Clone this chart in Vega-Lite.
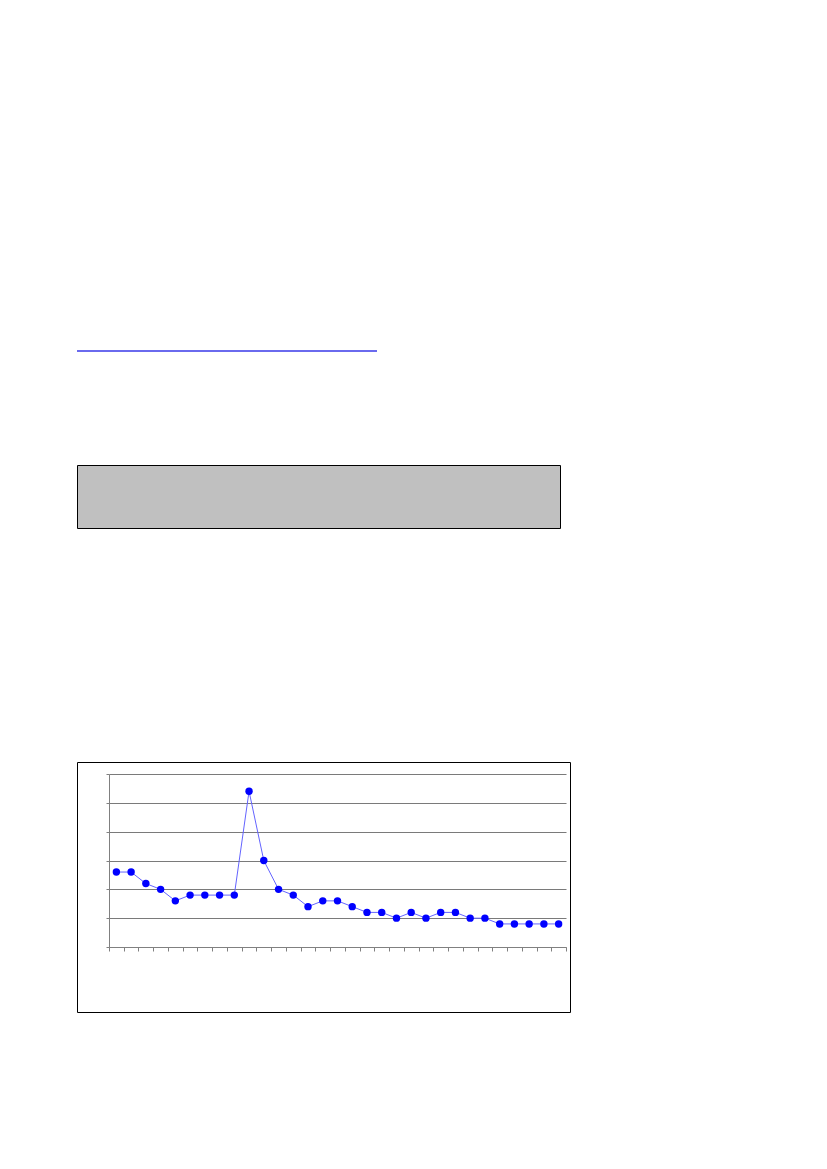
{
  "$schema": "https://vega.github.io/schema/vega-lite/v6.json",
  "background": "white",
  "padding": {"top": 350, "left": 76, "right": 5, "bottom": 5},
  "spacing": 0,
  "config": {"view": {"stroke": null}},
  "vconcat": [
    {"width": 300, "height": 2, "view": {"fill": "#6a6aee", "stroke": null}, "data": {"values": []}, "mark": "point"},
    {"width": 10, "height": 112, "data": {"values": []}, "mark": "point"},
    {"width": 483, "height": 63, "view": {"fill": "#c0c0c0", "stroke": "black", "strokeWidth": 1}, "data": {"values": []}, "mark": "point"},
    {"width": 10, "height": 232, "data": {"values": []}, "mark": "point"},
    {
      "width": 493,
      "height": 250,
      "view": {"stroke": "black", "strokeWidth": 1, "fill": "white"},
      "data": {"values": [
        {"i": 1, "v": 2.6}, {"i": 2, "v": 2.6}, {"i": 3, "v": 2.2}, {"i": 4, "v": 2.0},
        {"i": 5, "v": 1.6}, {"i": 6, "v": 1.8}, {"i": 7, "v": 1.8}, {"i": 8, "v": 1.8},
        {"i": 9, "v": 1.8}, {"i": 10, "v": 5.4}, {"i": 11, "v": 3.0}, {"i": 12, "v": 2.0},
        {"i": 13, "v": 1.8}, {"i": 14, "v": 1.4}, {"i": 15, "v": 1.6}, {"i": 16, "v": 1.6},
        {"i": 17, "v": 1.4}, {"i": 18, "v": 1.2}, {"i": 19, "v": 1.2}, {"i": 20, "v": 1.0},
        {"i": 21, "v": 1.2}, {"i": 22, "v": 1.0}, {"i": 23, "v": 1.2}, {"i": 24, "v": 1.2},
        {"i": 25, "v": 1.0}, {"i": 26, "v": 1.0}, {"i": 27, "v": 0.8}, {"i": 28, "v": 0.8},
        {"i": 29, "v": 0.8}, {"i": 30, "v": 0.8}, {"i": 31, "v": 0.8}
      ]},
      "encoding": {
        "x": {
          "field": "i", "type": "ordinal",
          "scale": {"type": "band", "range": [32, 489], "paddingInner": 0, "paddingOuter": 0},
          "axis": {"title": null, "labels": false, "tickBand": "extent", "offset": -65, "grid": false,
                   "domainColor": "#808080", "tickColor": "#808080", "tickSize": 4}
        },
        "y": {
          "field": "v", "type": "quantitative",
          "scale": {"domain": [0, 6], "range": [185, 12], "nice": false},
          "axis": {"title": null, "labels": false, "values": [0, 1, 2, 3, 4, 5, 6], "offset": -32, "grid": true,
                   "gridColor": "#7a7a7a", "gridOpacity": 1, "domainColor": "#808080", "tickColor": "#808080", "tickSize": 3}
        }
      },
      "layer": [
        {"mark": {"type": "line", "color": "#6464ff", "strokeWidth": 1}},
        {"mark": {"type": "point", "filled": true, "color": "#0000ff", "opacity": 1, "size": 55}}
      ]
    }
  ]
}
